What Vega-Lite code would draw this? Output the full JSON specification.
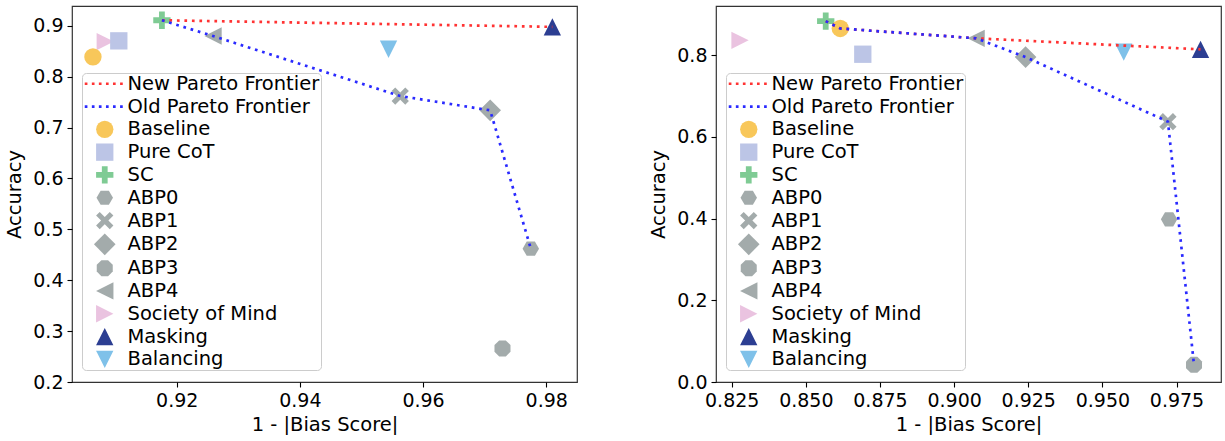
{
  "$schema": "https://vega.github.io/schema/vega-lite/v6.json",
  "padding": {"left": 4, "top": 5, "right": 5, "bottom": 0},
  "background": "white",
  "datasets": {
    "leftPts": [
      {"method": "Society of Mind", "x": 0.9084, "y": 0.869},
      {"method": "SC", "x": 0.9176, "y": 0.911},
      {"method": "Baseline", "x": 0.9064, "y": 0.839},
      {"method": "Pure CoT", "x": 0.9106, "y": 0.8705},
      {"method": "ABP0", "x": 0.9775, "y": 0.462},
      {"method": "ABP1", "x": 0.9563, "y": 0.762},
      {"method": "ABP2", "x": 0.9709, "y": 0.734},
      {"method": "ABP3", "x": 0.9729, "y": 0.266},
      {"method": "ABP4", "x": 0.9259, "y": 0.880},
      {"method": "Masking", "x": 0.9810, "y": 0.898},
      {"method": "Balancing", "x": 0.9544, "y": 0.854}
    ],
    "leftLines": [
      {"frontier": "New", "idx": 0, "x": 0.9176, "y": 0.911},
      {"frontier": "New", "idx": 1, "x": 0.9810, "y": 0.898},
      {"frontier": "Old", "idx": 0, "x": 0.9176, "y": 0.911},
      {"frontier": "Old", "idx": 1, "x": 0.9259, "y": 0.880},
      {"frontier": "Old", "idx": 2, "x": 0.9563, "y": 0.762},
      {"frontier": "Old", "idx": 3, "x": 0.9709, "y": 0.734},
      {"frontier": "Old", "idx": 4, "x": 0.9775, "y": 0.462}
    ],
    "rightPts": [
      {"method": "Society of Mind", "x": 0.8278, "y": 0.836},
      {"method": "SC", "x": 0.8567, "y": 0.883},
      {"method": "Baseline", "x": 0.8616, "y": 0.865},
      {"method": "Pure CoT", "x": 0.8692, "y": 0.802},
      {"method": "ABP0", "x": 0.9725, "y": 0.398},
      {"method": "ABP1", "x": 0.9721, "y": 0.637},
      {"method": "ABP2", "x": 0.9241, "y": 0.795},
      {"method": "ABP3", "x": 0.9809, "y": 0.042},
      {"method": "ABP4", "x": 0.9074, "y": 0.841},
      {"method": "Masking", "x": 0.9831, "y": 0.814},
      {"method": "Balancing", "x": 0.9572, "y": 0.807}
    ],
    "rightLines": [
      {"frontier": "New", "idx": 0, "x": 0.8567, "y": 0.883},
      {"frontier": "New", "idx": 1, "x": 0.8616, "y": 0.865},
      {"frontier": "New", "idx": 2, "x": 0.9074, "y": 0.841},
      {"frontier": "New", "idx": 3, "x": 0.9831, "y": 0.814},
      {"frontier": "Old", "idx": 0, "x": 0.8567, "y": 0.883},
      {"frontier": "Old", "idx": 1, "x": 0.8616, "y": 0.865},
      {"frontier": "Old", "idx": 2, "x": 0.9074, "y": 0.841},
      {"frontier": "Old", "idx": 3, "x": 0.9241, "y": 0.795},
      {"frontier": "Old", "idx": 4, "x": 0.9721, "y": 0.637},
      {"frontier": "Old", "idx": 5, "x": 0.9809, "y": 0.042}
    ]
  },
  "hconcat": [
    {
      "width": 505,
      "height": 376,
      "layer": [
        {
          "data": {"name": "leftPts"},
          "mark": {"type": "point", "filled": true, "opacity": 1, "size": 300},
          "encoding": {
            "x": {"field": "x", "type": "quantitative", "scale": {"domain": [0.903, 0.985], "nice": false, "zero": false},
                  "axis": {"values": [0.92, 0.94, 0.96, 0.98], "format": ".2f", "title": "1 - |Bias Score|"}},
            "y": {"field": "y", "type": "quantitative", "scale": {"domain": [0.2, 0.939], "nice": false, "zero": false},
                  "axis": {"values": [0.2, 0.3, 0.4, 0.5, 0.6, 0.7, 0.8, 0.9], "format": ".1f", "title": "Accuracy"}},
            "color": {"field": "method", "type": "nominal",
              "scale": {"domain": ["New Pareto Frontier", "Old Pareto Frontier", "Baseline", "Pure CoT", "SC", "ABP0", "ABP1", "ABP2", "ABP3", "ABP4", "Society of Mind", "Masking", "Balancing"],
                        "range": ["#ff3333", "#2a2aff", "#F8C75A", "#BCC5E6", "#7FCB94", "#A3ABAB", "#A3ABAB", "#A3ABAB", "#A3ABAB", "#A3ABAB", "#EAC3E0", "#2C3E92", "#7FC1E9"]},
              "legend": {"orient": "none", "legendX": 10, "legendY": 67, "title": null}},
            "shape": {"field": "method", "type": "nominal",
              "scale": {"domain": ["New Pareto Frontier", "Old Pareto Frontier", "Baseline", "Pure CoT", "SC", "ABP0", "ABP1", "ABP2", "ABP3", "ABP4", "Society of Mind", "Masking", "Balancing"],
                        "range": [
                          "M-2.31,-0.155h0.31v0.31h-0.31z M-1.49,-0.155h0.31v0.31h-0.31z M-0.68,-0.155h0.31v0.31h-0.31z M0.14,-0.155h0.31v0.31h-0.31z M0.95,-0.155h0.31v0.31h-0.31z M1.77,-0.155h0.31v0.31h-0.31z",
                          "M-2.31,-0.155h0.31v0.31h-0.31z M-1.49,-0.155h0.31v0.31h-0.31z M-0.68,-0.155h0.31v0.31h-0.31z M0.14,-0.155h0.31v0.31h-0.31z M0.95,-0.155h0.31v0.31h-0.31z M1.77,-0.155h0.31v0.31h-0.31z",
                          "circle",
                          "square",
                          "M-0.333,-1H0.333V-0.333H1V0.333H0.333V1H-0.333V0.333H-1V-0.333H-0.333Z",
                          "M-0.95,0L-0.475,-0.82L0.475,-0.82L0.95,0L0.475,0.82L-0.475,0.82Z",
                          "M-0.58,-1L0,-0.42L0.58,-1L1,-0.58L0.42,0L1,0.58L0.58,1L0,0.42L-0.58,1L-1,0.58L-0.42,0L-1,-0.58Z",
                          "M0,-1.25L1.25,0L0,1.25L-1.25,0Z",
                          "M-0.383,-0.924L0.383,-0.924L0.924,-0.383L0.924,0.383L0.383,0.924L-0.383,0.924L-0.924,0.383L-0.924,-0.383Z",
                          "M-1,0L1,-1L1,1Z",
                          "M1,0L-1,-1L-1,1Z",
                          "M0,-1L1,1L-1,1Z",
                          "M0,1L1,-1L-1,-1Z"
                        ]},
              "legend": {"orient": "none", "legendX": 10, "legendY": 67, "title": null}}
          }
        },
        {
          "data": {"name": "leftLines"},
          "transform": [{"filter": "datum.frontier === 'New'"}],
          "mark": {"type": "line", "color": "#ff3333", "strokeWidth": 2.7, "strokeDash": [2.7, 4.8], "strokeCap": "butt"},
          "encoding": {
            "x": {"field": "x", "type": "quantitative"},
            "y": {"field": "y", "type": "quantitative"},
            "order": {"field": "idx", "type": "quantitative"}
          }
        },
        {
          "data": {"name": "leftLines"},
          "transform": [{"filter": "datum.frontier === 'Old'"}],
          "mark": {"type": "line", "color": "#2a2aff", "strokeWidth": 2.7, "strokeDash": [2.7, 4.8], "strokeCap": "butt"},
          "encoding": {
            "x": {"field": "x", "type": "quantitative"},
            "y": {"field": "y", "type": "quantitative"},
            "order": {"field": "idx", "type": "quantitative"}
          }
        }
      ]
    },
    {
      "width": 505,
      "height": 376,
      "layer": [
        {
          "data": {"name": "rightPts"},
          "mark": {"type": "point", "filled": true, "opacity": 1, "size": 300},
          "encoding": {
            "x": {"field": "x", "type": "quantitative", "scale": {"domain": [0.8197, 0.990], "nice": false, "zero": false},
                  "axis": {"values": [0.825, 0.85, 0.875, 0.9, 0.925, 0.95, 0.975], "format": ".3f", "title": "1 - |Bias Score|"}},
            "y": {"field": "y", "type": "quantitative", "scale": {"domain": [0, 0.92], "nice": false, "zero": false},
                  "axis": {"values": [0, 0.2, 0.4, 0.6, 0.8], "format": ".1f", "title": "Accuracy"}},
            "color": {"field": "method", "type": "nominal",
              "scale": {"domain": ["New Pareto Frontier", "Old Pareto Frontier", "Baseline", "Pure CoT", "SC", "ABP0", "ABP1", "ABP2", "ABP3", "ABP4", "Society of Mind", "Masking", "Balancing"],
                        "range": ["#ff3333", "#2a2aff", "#F8C75A", "#BCC5E6", "#7FCB94", "#A3ABAB", "#A3ABAB", "#A3ABAB", "#A3ABAB", "#A3ABAB", "#EAC3E0", "#2C3E92", "#7FC1E9"]},
              "legend": {"orient": "none", "legendX": 10, "legendY": 67, "title": null}},
            "shape": {"field": "method", "type": "nominal",
              "scale": {"domain": ["New Pareto Frontier", "Old Pareto Frontier", "Baseline", "Pure CoT", "SC", "ABP0", "ABP1", "ABP2", "ABP3", "ABP4", "Society of Mind", "Masking", "Balancing"],
                        "range": [
                          "M-2.31,-0.155h0.31v0.31h-0.31z M-1.49,-0.155h0.31v0.31h-0.31z M-0.68,-0.155h0.31v0.31h-0.31z M0.14,-0.155h0.31v0.31h-0.31z M0.95,-0.155h0.31v0.31h-0.31z M1.77,-0.155h0.31v0.31h-0.31z",
                          "M-2.31,-0.155h0.31v0.31h-0.31z M-1.49,-0.155h0.31v0.31h-0.31z M-0.68,-0.155h0.31v0.31h-0.31z M0.14,-0.155h0.31v0.31h-0.31z M0.95,-0.155h0.31v0.31h-0.31z M1.77,-0.155h0.31v0.31h-0.31z",
                          "circle",
                          "square",
                          "M-0.333,-1H0.333V-0.333H1V0.333H0.333V1H-0.333V0.333H-1V-0.333H-0.333Z",
                          "M-0.95,0L-0.475,-0.82L0.475,-0.82L0.95,0L0.475,0.82L-0.475,0.82Z",
                          "M-0.58,-1L0,-0.42L0.58,-1L1,-0.58L0.42,0L1,0.58L0.58,1L0,0.42L-0.58,1L-1,0.58L-0.42,0L-1,-0.58Z",
                          "M0,-1.25L1.25,0L0,1.25L-1.25,0Z",
                          "M-0.383,-0.924L0.383,-0.924L0.924,-0.383L0.924,0.383L0.383,0.924L-0.383,0.924L-0.924,0.383L-0.924,-0.383Z",
                          "M-1,0L1,-1L1,1Z",
                          "M1,0L-1,-1L-1,1Z",
                          "M0,-1L1,1L-1,1Z",
                          "M0,1L1,-1L-1,-1Z"
                        ]},
              "legend": {"orient": "none", "legendX": 10, "legendY": 67, "title": null}}
          }
        },
        {
          "data": {"name": "rightLines"},
          "transform": [{"filter": "datum.frontier === 'New'"}],
          "mark": {"type": "line", "color": "#ff3333", "strokeWidth": 2.7, "strokeDash": [2.7, 4.8], "strokeCap": "butt"},
          "encoding": {
            "x": {"field": "x", "type": "quantitative"},
            "y": {"field": "y", "type": "quantitative"},
            "order": {"field": "idx", "type": "quantitative"}
          }
        },
        {
          "data": {"name": "rightLines"},
          "transform": [{"filter": "datum.frontier === 'Old'"}],
          "mark": {"type": "line", "color": "#2a2aff", "strokeWidth": 2.7, "strokeDash": [2.7, 4.8], "strokeCap": "butt"},
          "encoding": {
            "x": {"field": "x", "type": "quantitative"},
            "y": {"field": "y", "type": "quantitative"},
            "order": {"field": "idx", "type": "quantitative"}
          }
        }
      ]
    }
  ],
  "spacing": 70,
  "resolve": {"scale": {"color": "independent", "shape": "independent"}, "legend": {"color": "independent", "shape": "independent"}},
  "config": {
    "font": "DejaVu Sans",
    "view": {"stroke": "#333333", "strokeWidth": 1.2},
    "axis": {
      "domain": false,
      "grid": false,
      "labelFont": "DejaVu Sans",
      "titleFont": "DejaVu Sans",
      "labelFontSize": 19,
      "titleFontSize": 19.5,
      "titleFontWeight": "normal",
      "labelColor": "#000000",
      "titleColor": "#000000",
      "tickColor": "#000000",
      "tickSize": 5,
      "tickWidth": 1.1,
      "labelPadding": 4,
      "labelFlush": false,
      "labelOverlap": false
    },
    "axisY": {"titlePadding": 8},
    "axisX": {"titlePadding": 5},
    "legend": {
      "labelFont": "DejaVu Sans",
      "labelFontSize": 19.5,
      "labelColor": "#000000",
      "symbolSize": 300,
      "symbolOpacity": 1,
      "symbolStrokeWidth": 0,
      "padding": 1,
      "rowPadding": 1.8,
      "strokeColor": "#cccccc",
      "fillColor": "rgba(255,255,255,0.8)",
      "cornerRadius": 4,
      "symbolOffset": 12,
      "labelOffset": 13,
      "labelLimit": 400
    }
  }
}
